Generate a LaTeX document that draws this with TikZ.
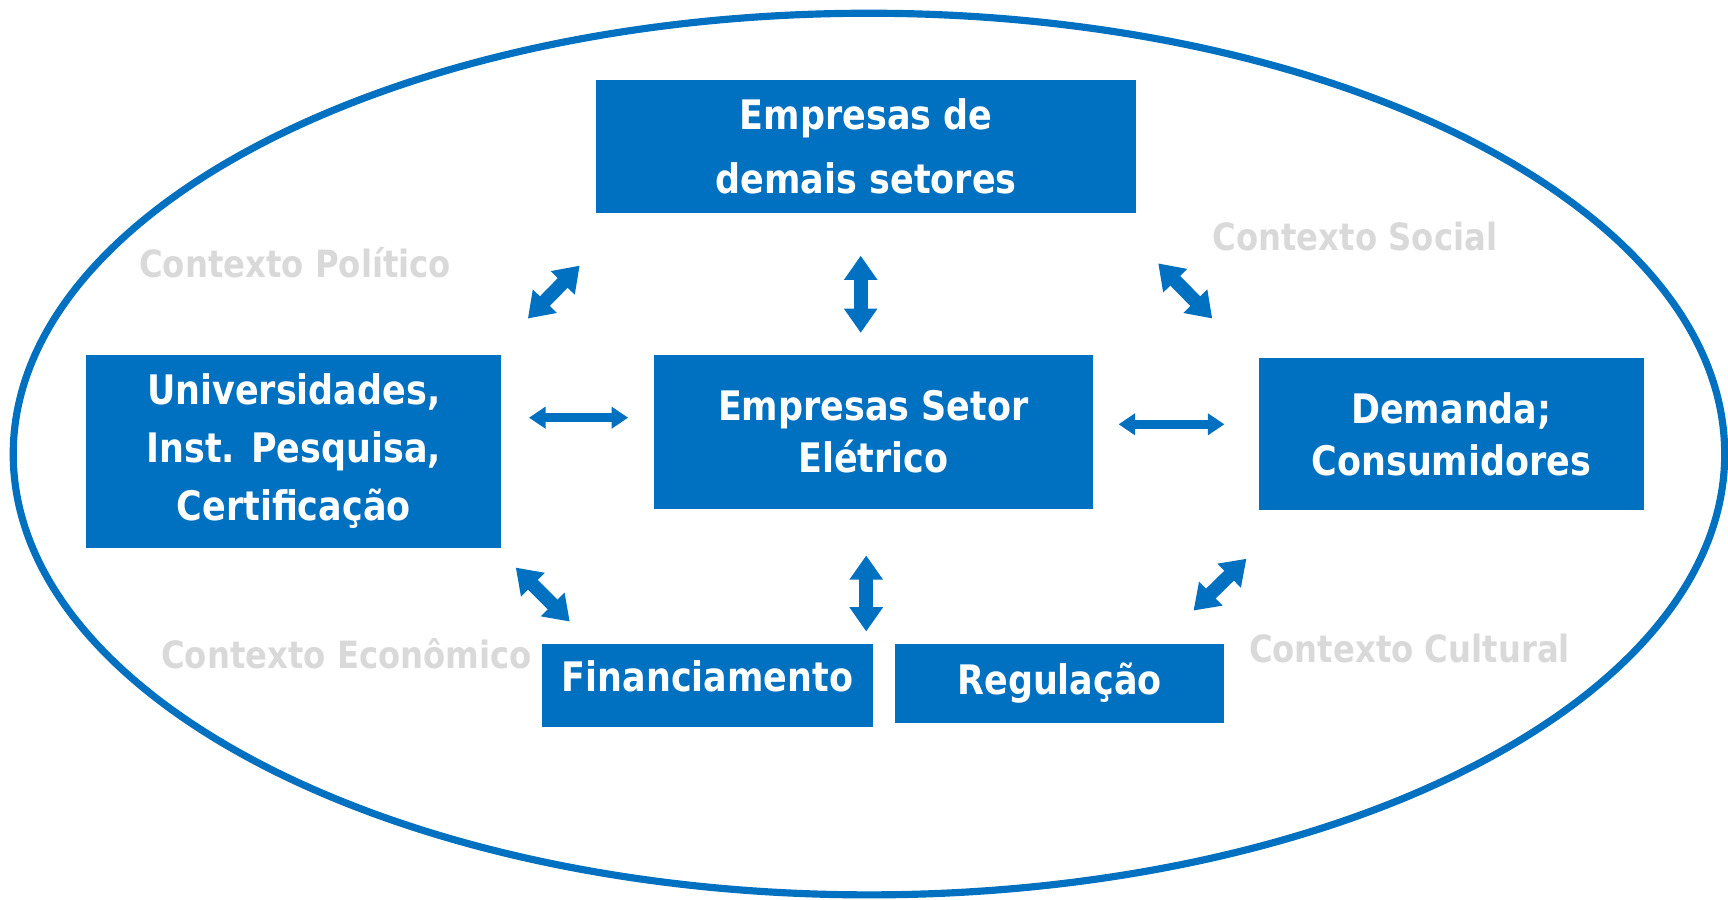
\documentclass[tikz,border=0pt]{standalone}
\usepackage{fontspec}
\setmainfont{DejaVu Sans}[FakeStretch=0.86]
\usetikzlibrary{arrows.meta}
\definecolor{boxblue}{HTML}{0070C0}
\definecolor{ctxgray}{HTML}{D9D9D9}
\tikzset{
  box/.style={fill=boxblue, text=white, align=center, inner sep=0pt,
    font=\bfseries\fontsize{21}{#1}\selectfont},
  ctx/.style={text=ctxgray, inner sep=0pt, anchor=west,
    font=\bfseries\fontsize{19.4}{22}\selectfont},
  bigarrow/.style={draw=boxblue, line width=0.25cm,
    {Triangle[width=0.58cm,length=0.44cm]}-{Triangle[width=0.58cm,length=0.44cm]}},
  flatarrow/.style={draw=boxblue, line width=0.17cm,
    {Triangle[width=0.38cm,length=0.3cm]}-{Triangle[width=0.38cm,length=0.3cm]}},
}
\begin{document}
\begin{tikzpicture}[x=0.02cm, y=-0.02cm]
\useasboundingbox (0,0) rectangle (1568,816);
% outer ellipse
\draw[boxblue, line width=0.13cm] (788.5,412) ellipse [x radius=776.5, y radius=400];
% boxes
\node[box=33, minimum width=9.8cm, minimum height=2.4cm] (top) at (786,133) {Empresas de\\demais setores};
\node[box=27, minimum width=7.98cm, minimum height=2.8cm] (center) at (792.5,392) {Empresas Setor\\Elétrico};
\node[box=30, minimum width=7.54cm, minimum height=3.5cm] (left) at (266.5,409.5) {Universidades,\\Inst. Pesquisa,\\Certificação};
\node[box=27, minimum width=7.0cm, minimum height=2.76cm] (right) at (1317,394) {Demanda;\\Consumidores};
\node[box=27, minimum width=6.0cm, minimum height=1.52cm] (fin) at (642,622) {\raisebox{0.34cm}{Financiamento}};
\node[box=27, minimum width=5.98cm, minimum height=1.44cm] (reg) at (961.5,620) {\raisebox{0.12cm}{Regulação}};
% context labels
\node[ctx] (cpol) at (126,238) {Contexto Político};
\node[ctx] (csoc) at (1100,215) {Contexto Social};
\node[ctx] (ceco) at (146,593) {Contexto Econômico};
\node[ctx] (ccul) at (1133,588) {Contexto Cultural};
% arrow end points
\coordinate (a1s) at (479,289); \coordinate (a1e) at (526,241);
\coordinate (a2s) at (781,232); \coordinate (a2e) at (781,302);
\coordinate (a3s) at (1051,239); \coordinate (a3e) at (1100,289);
\coordinate (a4s) at (480,379); \coordinate (a4e) at (570,379);
\coordinate (a5s) at (1015,385); \coordinate (a5e) at (1111,385);
\coordinate (a6s) at (468,515); \coordinate (a6e) at (517,564);
\coordinate (a7s) at (786,504); \coordinate (a7e) at (786,573);
\coordinate (a8s) at (1131,507); \coordinate (a8e) at (1083,554);
% arrows
\draw[bigarrow] (a1s) -- (a1e);
\draw[bigarrow] (a2s) -- (a2e);
\draw[bigarrow] (a3s) -- (a3e);
\draw[flatarrow] (a4s) -- (a4e);
\draw[flatarrow] (a5s) -- (a5e);
\draw[bigarrow] (a6s) -- (a6e);
\draw[bigarrow] (a7s) -- (a7e);
\draw[bigarrow] (a8s) -- (a8e);
\end{tikzpicture}
\end{document}
